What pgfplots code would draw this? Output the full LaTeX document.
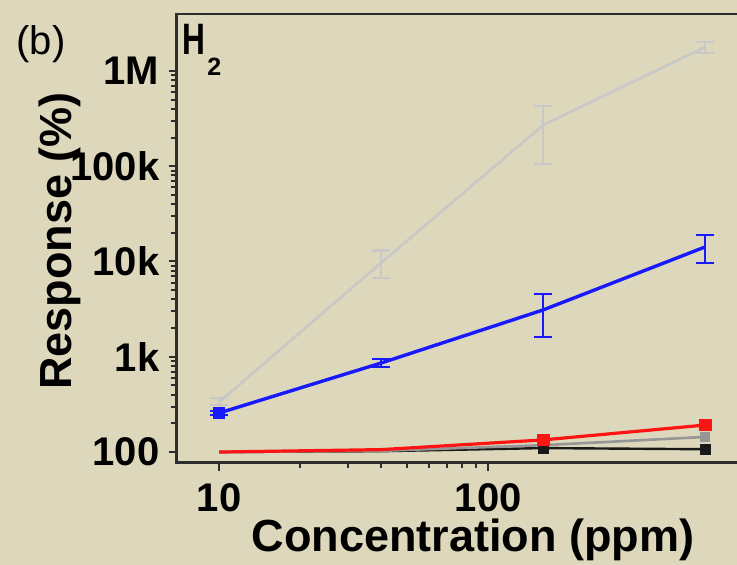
\documentclass[border=0pt]{standalone}
\usepackage{fontspec}
\setmainfont{Liberation Sans}
\usepackage{pgfplots}
\usepackage{pgfplotstable}
\pgfplotsset{compat=1.18}
\definecolor{bg}{RGB}{221,215,187}
\definecolor{axisc}{RGB}{45,45,45}
\definecolor{lgray}{RGB}{200,200,200}
\definecolor{mgray}{RGB}{150,150,150}
\definecolor{cblue}{RGB}{25,25,255}
\definecolor{cred}{RGB}{255,20,20}
\definecolor{cblack}{RGB}{25,25,25}

\pgfplotstableread{
x y ep em
10 335 34 25
40 9700 3300 3000
160 270000 160000 165000
640 1780000 240000 240000
}\lgraydata
\pgfplotstableread{
x y ep em
10 257 12 12
40 860 85 80
160 3100 1460 1490
640 14200 4800 4600
}\bluedata
\pgfplotstableread{
x y
10 100
40 106
160 134
640 192
}\reddata
\pgfplotstableread{
x y
10 100
40 103
160 118
640 144
}\mgraydata
\pgfplotstableread{
x y
10 100
40 102
160 110
640 107
}\blackdata

\begin{document}
\begin{tikzpicture}
\useasboundingbox (0,0) rectangle (368.5pt,282.5pt);
\fill[bg] (0,0) rectangle (368.5pt,282.5pt);
\begin{axis}[
  at={(88.35pt,51.15pt)}, anchor=south west,
  scale only axis, width=286.65pt, height=224.35pt,
  xmode=log, ymode=log,
  xmin=6.95, xmax=940, ymin=77.3, ymax=3.96e6,
  axis line style={draw=axisc, line width=1.3pt},
  xtick={10,100}, xticklabels={10,100},
  ytick={100,1000,10000,100000,1000000},
  yticklabels={100,1k,10k,100k,1M},
  minor xtick={}, minor ytick={},
  tick align=outside, xtick pos=left, ytick pos=left,
  major tick length=4pt,
  tick style={draw=axisc, line width=1pt},
  /pgf/number format/assume math mode=true,
  ticklabel style={font=\fontsize{20}{24}\selectfont\bfseries, inner sep=0pt},
  yticklabel style={anchor=east, xshift=-4.5pt},
  xticklabel style={anchor=north, yshift=-6pt},
  xlabel={Concentration (ppm)},
  ylabel={Response (\%)},
  xlabel style={at={(axis description cs:0.517,-0.1716)}, anchor=center, font=\fontsize{22.5}{27}\selectfont\bfseries},
  ylabel style={at={(axis description cs:-0.2036,0.494)}, anchor=center, font=\fontsize{22.5}{27}\selectfont\bfseries},
  error bars/error mark options={rotate=90, mark size=4.5pt, line width=1.2pt},
]
\addplot[cblack, line width=1.2pt, mark=square*, mark size=2.2pt, mark indices={3,4}] table[x=x,y=y] {\blackdata};
\addplot[mgray, line width=1.3pt, mark=square*, mark size=2pt, mark indices={4}] table[x=x,y=y] {\mgraydata};
\addplot[cred, line width=1.6pt, mark=square*, mark size=2.4pt, mark indices={3,4}] table[x=x,y=y] {\reddata};
\addplot[lgray, line width=1.3pt, mark=none,
  error bars/.cd, y dir=both, y explicit,
  error bar style={line width=1.2pt, lgray}]
  table[x=x, y=y, y error plus=ep, y error minus=em] {\lgraydata};
\addplot[cblue, line width=1.7pt, mark=square*, mark size=2.2pt, mark indices={1},
  error bars/.cd, y dir=both, y explicit,
  error bar style={line width=1.2pt, cblue}]
  table[x=x, y=y, y error plus=ep, y error minus=em] {\bluedata};
\end{axis}
\node[anchor=center, inner sep=0pt, font=\fontsize{20}{24}\selectfont] at (20.5pt,260.5pt) {(b)};
\node[anchor=base west, inner sep=0pt, xscale=0.72, transform shape, font=\fontsize{22}{26}\selectfont\bfseries] at (91pt,255pt) {H};
\node[anchor=base west, inner sep=0pt, font=\fontsize{12.5}{14}\selectfont\bfseries] at (103.5pt,244.5pt) {2};
\end{tikzpicture}
\end{document}
